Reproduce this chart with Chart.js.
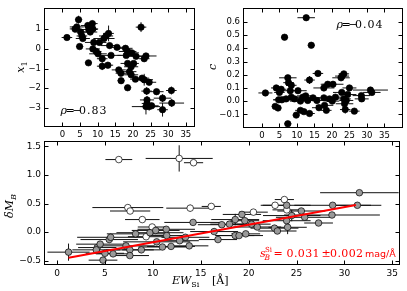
<!DOCTYPE html>
<html>
<head>
<meta charset="utf-8">
<script src="https://cdn.jsdelivr.net/npm/chart.js@4/dist/chart.umd.min.js"></script>
<style>
html, body { margin: 0; padding: 0; background: #fff; }
#wrap { position: relative; width: 407px; height: 291px; }
#wrap canvas { position: absolute; left: 0; top: 0; }
</style>
</head>
<body>
<div id="wrap">
<canvas id="panelX1" width="407" height="291"></canvas>
<canvas id="panelC" width="407" height="291"></canvas>
<canvas id="panelMB" width="407" height="291"></canvas>
</div>
<script>
// rows are [EW_Si, value, EW error, value error]
var x1Rows = [
	[1.3, 0.58, 1.5, 0.1], [4.6, 1.49, 1.0, 0.2], [4.1, 1.12, 2.0, 0.1], [3.6, 1.02, 1.5, 0.1],
	[5.2, 0.86, 2.0, 0.15], [5.55, 0.66, 1.5, 0.1], [4.9, 0.12, 1.0, 0.1], [5.8, 0.53, 2.0, 0.1],
	[7.2, 1.19, 2.0, 0.15], [7.5, 0.99, 2.5, 0.1], [8.5, 1.29, 1.5, 0.15], [7.9, 0.86, 2.0, 0.1],
	[8.65, 1.02, 1.5, 0.1], [7.4, -0.71, 1.0, 0.1], [8.9, 0.33, 2.5, 0.15], [8.65, 0.0, 2.0, 0.1],
	[9.6, -0.13, 1.5, 0.15], [10.1, -0.25, 2.5, 0.1], [10.5, 0.33, 2.0, 0.1], [11.8, 0.53, 3.0, 0.1],
	[12.4, 0.66, 2.0, 0.1], [13.1, 0.79, 1.5, 0.4], [13.4, 0.17, 2.5, 0.15], [13.8, -0.33, 3.0, 0.1],
	[11.3, -0.5, 1.5, 0.15], [11.3, -0.88, 1.5, 0.2], [12.9, -0.83, 1.5, 0.15], [15.5, 0.08, 2.5, 0.1],
	[17.9, 0.03, 2.0, 0.1], [18.5, -0.13, 2.5, 0.1], [18.1, -0.33, 2.5, 0.1], [19.7, -0.2, 2.0, 0.15],
	[20.9, -0.38, 3.0, 0.1], [23.7, -0.36, 3.0, 0.1], [23.2, -0.5, 1.5, 0.1], [18.5, -0.74, 2.0, 0.1],
	[20.2, -0.74, 1.5, 0.1], [19.5, -0.91, 2.0, 0.1], [16.0, -1.07, 2.0, 0.1], [16.6, -1.24, 1.5, 0.15],
	[19.0, -1.16, 2.0, 0.15], [19.5, -1.32, 2.0, 0.1], [16.65, -1.62, 1.0, 0.15], [18.5, -1.98, 1.0, 0.1],
	[20.7, -1.54, 1.5, 0.1], [22.3, 1.11, 1.5, 0.25], [22.6, -1.49, 2.0, 0.15], [23.2, -1.57, 2.5, 0.3],
	[24.6, -1.7, 2.0, 0.15], [23.9, -2.15, 1.5, 0.2], [24.0, -2.6, 2.0, 0.2], [26.7, -2.18, 2.0, 0.1],
	[28.4, -2.51, 2.5, 0.2], [30.9, -2.12, 1.5, 0.2], [31.0, -2.76, 3.5, 0.2], [28.4, -3.1, 1.5, 0.35],
	[23.7, -2.94, 4.0, 0.4], [24.6, -2.94, 2.5, 0.2], [25.3, -2.9, 2.0, 0.15], [24.0, -2.78, 1.5, 0.2]
];
var cRows = [
	[1.0, 0.062, 2.0, 0.02], [6.47, 0.485, 1.0, 0.02], [12.65, 0.633, 2.5, 0.02], [14.1, 0.424, 1.0, 0.02],
	[16.0, 0.21, 1.5, 0.02], [13.6, 0.16, 1.5, 0.03], [7.4, 0.177, 2.5, 0.02], [7.6, 0.14, 1.5, 0.02],
	[8.4, 0.12, 1.5, 0.02], [23.4, 0.207, 1.5, 0.02], [22.9, 0.19, 2.0, 0.02], [22.6, 0.177, 2.5, 0.02],
	[20.3, 0.128, 3.0, 0.02], [18.8, 0.128, 2.0, 0.02], [17.7, 0.1, 3.0, 0.02], [4.1, 0.1, 1.5, 0.02],
	[5.5, 0.09, 1.5, 0.02], [5.0, 0.066, 1.5, 0.02], [4.8, 0.01, 1.5, 0.02], [5.7, 0.01, 2.5, 0.02],
	[3.8, -0.04, 1.0, 0.02], [4.6, -0.052, 1.0, 0.02], [8.1, 0.079, 2.0, 0.02], [10.3, 0.079, 2.5, 0.02],
	[6.9, 0.017, 3.0, 0.02], [8.4, 0.03, 2.5, 0.02], [9.3, 0.017, 2.5, 0.02], [11.0, 0.0, 3.0, 0.02],
	[11.7, 0.03, 2.0, 0.02], [12.5, 0.04, 2.5, 0.02], [13.1, 0.005, 3.0, 0.02], [9.8, -0.106, 1.0, 0.02],
	[11.0, -0.07, 1.5, 0.02], [12.0, -0.08, 2.0, 0.02], [13.6, -0.094, 1.5, 0.02], [7.4, -0.172, 1.0, 0.02],
	[14.6, 0.025, 2.0, 0.02], [15.7, 0.005, 3.0, 0.02], [16.3, -0.05, 2.0, 0.02], [17.7, 0.025, 2.0, 0.02],
	[18.4, -0.07, 1.5, 0.02], [17.9, -0.032, 2.5, 0.02], [19.3, 0.017, 2.5, 0.02], [20.1, 0.0, 2.0, 0.02],
	[21.0, 0.03, 2.0, 0.02], [22.8, 0.066, 2.5, 0.02], [23.4, 0.017, 2.0, 0.02], [23.6, -0.02, 2.5, 0.03],
	[23.8, -0.064, 1.5, 0.03], [24.1, 0.005, 2.0, 0.02], [25.0, 0.1, 2.0, 0.02], [24.5, 0.05, 2.5, 0.02],
	[26.4, -0.076, 1.5, 0.02], [28.4, 0.042, 2.5, 0.02], [28.5, 0.017, 2.0, 0.02], [31.0, 0.084, 5.0, 0.02],
	[31.4, 0.066, 2.5, 0.02]
];
var mbGrayRows = [
	[1.2, -0.35, 2.2, 0.15], [4.8, -0.49, 1.5, 0.03], [4.2, -0.27, 2.0, 0.04], [4.1, -0.31, 2.5, 0.04],
	[4.5, -0.21, 2.5, 0.04], [5.45, -0.13, 3.0, 0.05], [5.6, -0.09, 3.5, 0.06], [5.0, -0.37, 2.0, 0.04],
	[5.85, -0.38, 1.8, 0.03], [7.2, -0.24, 3.0, 0.04], [7.6, -0.31, 2.5, 0.04], [7.6, -0.41, 2.0, 0.04],
	[8.8, -0.31, 2.0, 0.03], [8.2, -0.03, 3.0, 0.03], [9.7, -0.01, 3.5, 0.04], [10.3, 0.03, 2.5, 0.04],
	[10.4, -0.17, 3.5, 0.04], [11.0, -0.26, 2.5, 0.03], [11.4, 0.05, 3.0, 0.04], [11.45, -0.06, 2.0, 0.03],
	[11.9, -0.25, 2.5, 0.03], [12.8, -0.15, 2.0, 0.05], [13.4, -0.09, 2.5, 0.04], [13.8, -0.24, 2.0, 0.04],
	[14.2, 0.17, 3.0, 0.04], [16.4, 0.01, 2.5, 0.05], [16.8, -0.13, 2.0, 0.04], [17.2, 0.13, 2.5, 0.04],
	[18.0, 0.14, 2.0, 0.04], [18.6, 0.22, 2.5, 0.1], [19.3, 0.31, 2.0, 0.04], [19.6, 0.2, 1.5, 0.05],
	[18.6, -0.06, 2.0, 0.03], [19.0, -0.06, 2.5, 0.03], [19.7, -0.03, 1.5, 0.03], [20.3, 0.14, 2.0, 0.04],
	[20.9, 0.09, 2.5, 0.04], [22.7, 0.07, 2.5, 0.04], [23.0, 0.02, 2.0, 0.04], [23.97, 0.47, 2.5, 0.04],
	[23.97, 0.2, 2.5, 0.05], [24.07, 0.085, 2.0, 0.12], [24.5, 0.29, 3.0, 0.1], [25.5, 0.37, 2.5, 0.04],
	[25.85, 0.26, 3.0, 0.04], [27.3, 0.16, 1.5, 0.05], [28.7, 0.3, 5.0, 0.04], [28.77, 0.47, 4.0, 0.04],
	[31.35, 0.47, 2.5, 0.04], [31.56, 0.69, 4.1, 0.04]
];
var mbWhiteRows = [
	[6.45, 1.27, 1.4, 0.03], [12.75, 1.29, 3.5, 0.23], [14.25, 1.215, 1.0, 0.03], [7.39, 0.43, 3.7, 0.03],
	[7.63, 0.37, 2.1, 0.03], [8.9, 0.22, 1.8, 0.03], [9.93, 0.09, 1.5, 0.03], [9.3, -0.08, 1.9, 0.03],
	[13.9, 0.42, 2.5, 0.06], [16.1, 0.45, 1.0, 0.03], [20.5, 0.35, 1.5, 0.03], [22.76, 0.47, 1.5, 0.03],
	[23.73, 0.57, 1.0, 0.04], [23.99, 0.39, 1.5, 0.03]
];
// fitted slope line, end points
var fitEw = [1.2, 31.2];
var fitMb = [-0.45, 0.475];

var ewTicks = [0, 5, 10, 15, 20, 25, 30, 35];
var ewLabels = ['0', '5', '10', '15', '20', '25', '30', '35'];
var x1Ticks = [-3, -2, -1, 0, 1];
var x1Labels = ['\u22123', '\u22122', '\u22121', '0', '1'];
var cTicks = [-0.1, 0, 0.1, 0.2, 0.3, 0.4, 0.5, 0.6];
var cLabels = ['\u22120.1', '0.0', '0.1', '0.2', '0.3', '0.4', '0.5', '0.6'];
var mbTicks = [-0.5, 0, 0.5, 1, 1.5];
var mbLabels = ['\u22120.5', '0.0', '0.5', '1.0', '1.5'];

var W = 407, H = 291;
var serif = "'DejaVu Serif'";

var errorBars = {
	id: 'errorBars',
	beforeDatasetsDraw: function(chart) {
		var ctx = chart.ctx, xs = chart.scales.x, ys = chart.scales.y, a = chart.chartArea;
		ctx.save();
		ctx.beginPath();
		ctx.rect(a.left, a.top, a.right - a.left, a.bottom - a.top);
		ctx.clip();
		ctx.lineWidth = 1;
		ctx.strokeStyle = '#111';
		chart.data.datasets.forEach(function(ds) {
			if (!ds.errors) return;
			ds.data.forEach(function(p, i) {
				var e = ds.errors[i];
				var px = xs.getPixelForValue(p.x), py = ys.getPixelForValue(p.y);
				ctx.beginPath();
				ctx.moveTo(xs.getPixelForValue(p.x - e[0]), py);
				ctx.lineTo(xs.getPixelForValue(p.x + e[0]), py);
				ctx.moveTo(px, ys.getPixelForValue(p.y - e[1]));
				ctx.lineTo(px, ys.getPixelForValue(p.y + e[1]));
				ctx.stroke();
			});
		});
		ctx.restore();
	}
};

// box + inward ticks on all four sides
var frame = {
	id: 'frame',
	afterDraw: function(chart) {
		var ctx = chart.ctx, a = chart.chartArea, xs = chart.scales.x, ys = chart.scales.y;
		var l = Math.round(a.left) + 0.5, r = Math.round(a.right) - 0.5;
		var t = Math.round(a.top) + 0.5, b = Math.round(a.bottom) - 0.5;
		ctx.save();
		ctx.strokeStyle = '#000';
		ctx.lineWidth = 1;
		ctx.strokeRect(l, t, r - l, b - t);
		ctx.beginPath();
		xs.ticks.forEach(function(tk) {
			var px = Math.round(xs.getPixelForValue(tk.value)) + 0.5;
			ctx.moveTo(px, b); ctx.lineTo(px, b - 4);
			ctx.moveTo(px, t); ctx.lineTo(px, t + 4);
		});
		ys.ticks.forEach(function(tk) {
			var py = Math.round(ys.getPixelForValue(tk.value)) + 0.5;
			ctx.moveTo(l, py); ctx.lineTo(l + 4, py);
			ctx.moveTo(r, py); ctx.lineTo(r - 4, py);
		});
		ctx.stroke();
		ctx.restore();
	}
};

function put(ctx, s, x, y, font, color) {
	ctx.font = font;
	ctx.fillStyle = color || '#000';
	ctx.textAlign = 'left';
	ctx.textBaseline = 'alphabetic';
	ctx.fillText(s, x, y);
	return x + ctx.measureText(s).width;
}

// parts: [text, font, baseline shift]; drawn left to right, centred on cx,cy
function label(ctx, cx, cy, rotate, parts) {
	ctx.save();
	ctx.translate(cx, cy);
	if (rotate) ctx.rotate(-Math.PI / 2);
	var w = 0;
	parts.forEach(function(p) { ctx.font = p[1]; w += ctx.measureText(p[0]).width; });
	var x = -w / 2;
	parts.forEach(function(p) { x = put(ctx, p[0], x, 4 + (p[2] || 0), p[1]); });
	ctx.restore();
}

function rho(ctx, x, y, val) {
	ctx.save();
	put(ctx, '\u03c1', x, y, 'italic 11px ' + serif);
	put(ctx, '=', x + 5, y, '11px ' + serif);
	put(ctx, '\u2212', x + 11.8, y, '11px ' + serif);
	ctx.letterSpacing = '1px';
	put(ctx, val, x + 18.5, y, '11px ' + serif);
	ctx.restore();
}

function scatterSet(rows, fill, radius, order) {
	return {
		data: rows.map(function(r) { return { x: r[0], y: r[1] }; }),
		errors: rows.map(function(r) { return [r[2], r[3]]; }),
		pointRadius: radius,
		pointBackgroundColor: fill,
		pointBorderColor: '#000',
		pointBorderWidth: 0.7,
		order: order
	};
}

function makePanel(id, area, xr, yr, yTicks, yLabels, fontSize, datasets, drawText) {
	var axisFont = { family: 'DejaVu Sans', size: fontSize };
	return new Chart(document.getElementById(id), {
		type: 'scatter',
		data: { datasets: datasets },
		options: {
			responsive: false,
			animation: false,
			devicePixelRatio: 1,
			events: [],
			layout: {
				autoPadding: false,
				padding: { left: area[0] - 40, right: W - area[1], top: area[2], bottom: H - area[3] - 16 }
			},
			plugins: { legend: { display: false }, tooltip: { enabled: false } },
			scales: {
				x: {
					type: 'linear', min: xr[0], max: xr[1],
					afterBuildTicks: function(s) { s.ticks = ewTicks.map(function(v) { return { value: v }; }); },
					afterFit: function(s) { s.height = 16; },
					grid: { display: false, drawTicks: false },
					border: { display: false },
					ticks: {
						autoSkip: false, maxRotation: 0, padding: 3, color: '#000', font: axisFont,
						callback: function(v, i) { return ewLabels[i]; }
					}
				},
				y: {
					type: 'linear', min: yr[0], max: yr[1],
					afterBuildTicks: function(s) { s.ticks = yTicks.map(function(v) { return { value: v }; }); },
					afterFit: function(s) { s.width = 40; },
					grid: { display: false, drawTicks: false },
					border: { display: false },
					ticks: {
						autoSkip: false, padding: 3, color: '#000', font: axisFont,
						callback: function(v, i) { return yLabels[i]; }
					}
				}
			}
		},
		plugins: [errorBars, frame, { id: 'txt', afterDraw: function(chart) { drawText(chart.ctx); } }]
	});
}

// x1 panel
makePanel('panelX1', [44, 195, 5, 127], [-5.2, 37.6], [-3.98, 2.08], x1Ticks, x1Labels, 8.5,
	[scatterSet(x1Rows, '#000', 3.2, 1)],
	function(ctx) {
		rho(ctx, 60.5, 113.5, '0.83');
		label(ctx, 20, 67, true, [['x', 'italic 11px ' + serif], ['1', '8px ' + serif, 3]]);
	});

// colour panel
makePanel('panelC', [243, 403, 5, 128], [-5.4, 40.3], [-0.204, 0.706], cTicks, cLabels, 8.5,
	[scatterSet(cRows, '#000', 3.2, 1)],
	function(ctx) {
		rho(ctx, 336.5, 27.5, '0.04');
		label(ctx, 212, 67, true, [['c', 'italic 11px ' + serif]]);
	});

// delta M_B panel
makePanel('panelMB', [44, 400, 141, 265], [-1.36, 35.8], [-0.575, 1.595], mbTicks, mbLabels, 9,
	[
		{
			data: [{ x: fitEw[0], y: fitMb[0] }, { x: fitEw[1], y: fitMb[1] }],
			showLine: true, borderColor: '#ff0000', borderWidth: 2, pointRadius: 0, order: 0
		},
		scatterSet(mbGrayRows, '#999999', 3.3, 1),
		scatterSet(mbWhiteRows, '#ffffff', 3.3, 2)
	],
	function(ctx) {
		var red = '#ff0000';
		ctx.save();
		put(ctx, 's', 260, 256.5, 'italic 11px ' + serif, red);
		put(ctx, 'B', 264.5, 259.5, 'italic 7.5px ' + serif, red);
		put(ctx, 'Si', 265, 251.5, '7px ' + serif, red);
		put(ctx, '=', 273.5, 256.5, '11px ' + serif, red);
		ctx.letterSpacing = '0.4px';
		put(ctx, '0.031', 286.5, 256.5, '11px ' + serif, red);
		put(ctx, '\u00b1', 321.5, 256.5, '11px ' + serif, red);
		put(ctx, '0.002', 330, 256.5, '11px ' + serif, red);
		ctx.letterSpacing = '0px';
		put(ctx, 'mag/\u00c5', 365, 256.5, '9.5px DejaVu Sans', red);
		ctx.restore();
		label(ctx, 9, 206, true, [['\u03b4M', 'italic 11px ' + serif], ['B', 'italic 8px ' + serif, 3]]);
		var x = put(ctx, 'EW', 172, 284, 'italic 11px ' + serif);
		put(ctx, 'Si', x, 287, '8px ' + serif);
		put(ctx, '[\u00c5]', 212, 284, '11px ' + serif);
	});
</script>
</body>
</html>
